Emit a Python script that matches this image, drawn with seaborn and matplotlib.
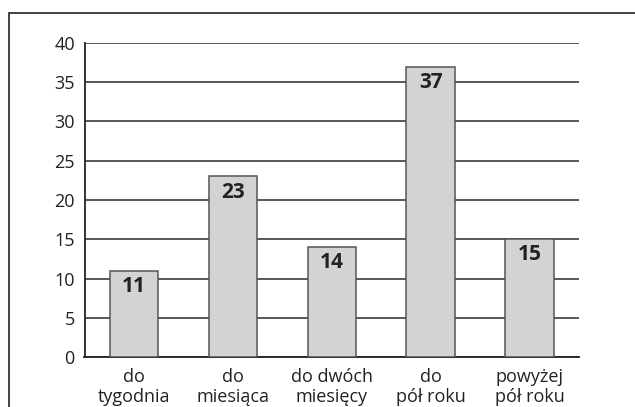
import matplotlib
matplotlib.use("Agg")
import matplotlib.pyplot as plt
import seaborn as sns
from matplotlib.patches import Rectangle
from matplotlib.ticker import MultipleLocator, FixedLocator

# data
categories = ["do\ntygodnia", "do\nmiesiąca", "do dwóch\nmiesięcy", "do\npół roku", "powyżej\npół roku"]
values = [11, 23, 14, 37, 15]

sns.set_style("white")
plt.rcParams['font.family'] = ['Open Sans', 'DejaVu Sans']

fig = plt.figure(figsize=(6.35, 4.07), dpi=100)
ax = fig.add_axes([84.5 / 635, 1 - 357 / 407, (579 - 84.5) / 635, (357 - 43) / 407])

# outer frame (runs off the right and bottom edges)
fig.patches.append(Rectangle((9 / 635, -0.2), 1.2, 1.2 - 12.5 / 407,
                             transform=fig.transFigure, fill=False,
                             edgecolor="#333333", linewidth=1.3, zorder=0))

sns.barplot(x=categories, y=values, ax=ax, color="#d2d3d5", saturation=1,
            width=0.49, edgecolor="#555555", linewidth=1.1, zorder=3)

ax.set_ylim(0, 40)
ax.set_xlim(-0.5, len(categories) - 0.5)
ax.yaxis.set_major_locator(MultipleLocator(5))
ax.grid(axis="y", color="#2a2a2a", linewidth=1.1, zorder=0)
ax.set_axisbelow(True)

for s in ["top", "right"]:
    ax.spines[s].set_visible(False)
for s in ["left", "bottom"]:
    ax.spines[s].set_color("#222222")
    ax.spines[s].set_linewidth(1.3)

ax.tick_params(axis="y", length=0, pad=7, labelsize=13, colors="#222222")
ax.tick_params(axis="x", which="major", length=0, pad=8, labelsize=13, colors="#222222")
ax.xaxis.set_minor_locator(FixedLocator([i + 0.5 for i in range(len(categories))]))
ax.tick_params(axis="x", which="minor", direction="in", length=5, width=1.2, color="#222222")
for lbl in ax.get_xticklabels():
    lbl.set_linespacing(1.1)

for i, v in enumerate(values):
    ax.text(i, v - 0.65, str(v), ha="center", va="top", fontsize=15,
            fontweight="bold", color="#222222", zorder=4)

ax.set_xlabel("")
ax.set_ylabel("")
fig.savefig("out.png", dpi=100)
